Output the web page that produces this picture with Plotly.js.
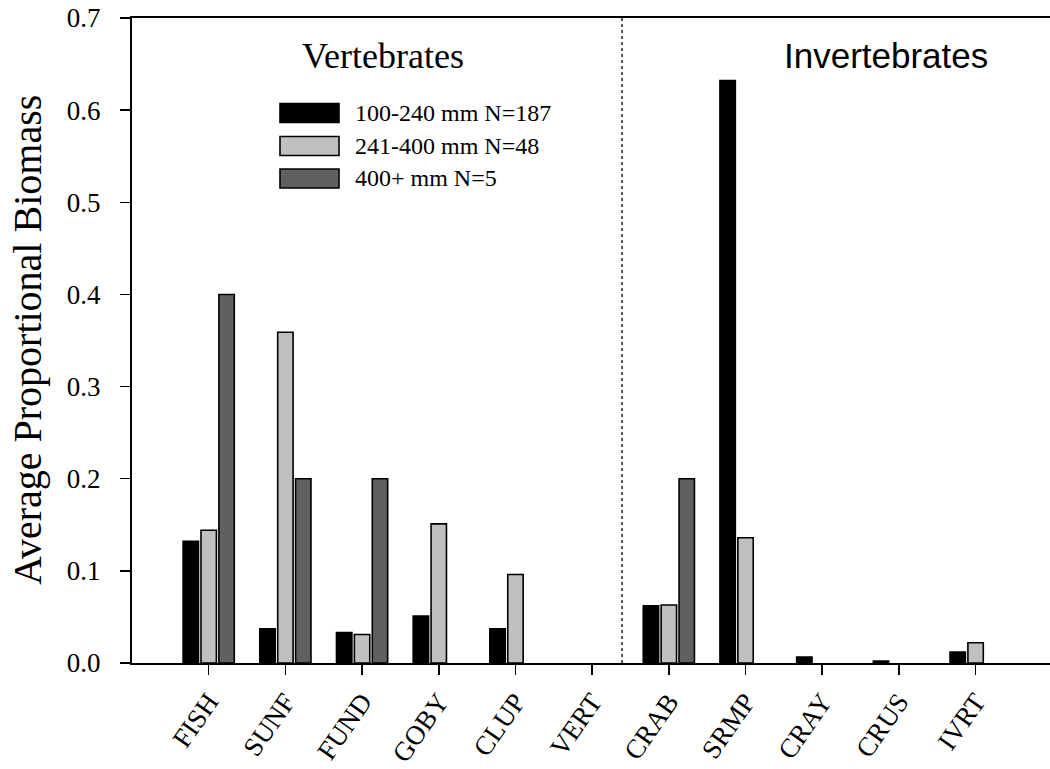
<!DOCTYPE html>
<html>
<head>
<meta charset="utf-8">
<script src="https://cdn.plot.ly/plotly-3.0.1.min.js"></script>
<style>
  html, body { margin: 0; padding: 0; background: #fff; }
  #chart { width: 1050px; height: 769px; }
</style>
</head>
<body>
<div id="chart"></div>
<script>
// Prey categories (vertebrates first, then invertebrates)
const categories = ['FISH', 'SUNF', 'FUND', 'GOBY', 'CLUP', 'VERT', 'CRAB', 'SRMP', 'CRAY', 'CRUS', 'IVRT'];

// Size classes and their average proportional biomass per category (null = none found)
const seriesNames = ['100-240 mm N=187', '241-400 mm N=48', '400+ mm N=5'];
const small  = [0.132, 0.037, 0.033, 0.051, 0.037, null, 0.062, 0.632, 0.0065, 0.002, 0.012];
const medium = [0.144, 0.359, 0.031, 0.151, 0.096, null, 0.063, 0.136, null, null, 0.022];
const large  = [0.400, 0.200, 0.200, null, null, null, 0.200, null, null, null, null];

const yTicks = [0, 0.1, 0.2, 0.3, 0.4, 0.5, 0.6, 0.7];
const groupLabels = ['Vertebrates', 'Invertebrates'];
const yTitle = 'Average Proportional Biomass';

const fills = ['#000000', '#c0c0c0', '#606060'];
const seriesValues = [small, medium, large];

// Plot area in pixels, used to place the hand-drawn legend and labels
const W = 1050, H = 769;
const M = { l: 132, r: 0, t: 18, b: 106 };
const plotW = W - M.l - M.r, plotH = H - M.t - M.b;
const px = x => (x - M.l) / plotW;
const py = y => (H - M.b - y) / plotH;

const traces = seriesValues.map((vals, i) => ({
  type: 'bar',
  name: seriesNames[i],
  x: categories.map((c, k) => k),
  y: vals,
  marker: { color: fills[i], line: { color: '#000', width: 1.6 } },
  showlegend: false,
  hoverinfo: 'x+y'
}));

const shapes = [
  // divider between vertebrate and invertebrate prey
  { type: 'line', xref: 'x', yref: 'y', x0: 5.39, x1: 5.39, y0: 0, y1: 0.7,
    line: { color: '#000', width: 1.3, dash: 'dot' } }
];
const annotations = [
  { text: groupLabels[0], xref: 'paper', yref: 'paper', x: px(383), y: py(56),
    xanchor: 'center', yanchor: 'middle', showarrow: false,
    font: { family: 'Liberation Serif', size: 36, color: '#000' } },
  { text: groupLabels[1], xref: 'paper', yref: 'paper', x: px(886), y: py(56),
    xanchor: 'center', yanchor: 'middle', showarrow: false,
    font: { family: 'Liberation Sans', size: 35, color: '#000' } },
  { text: yTitle, xref: 'paper', yref: 'paper', x: px(27), y: py(340),
    xanchor: 'center', yanchor: 'middle', textangle: -90, showarrow: false,
    font: { family: 'Liberation Serif', size: 40, color: '#000' } }
];

// Legend: wide swatches with labels
const legendRows = [113, 146, 178.5];
seriesNames.forEach((name, i) => {
  const cy = legendRows[i];
  shapes.push({ type: 'rect', xref: 'paper', yref: 'paper',
    x0: px(280), x1: px(339), y0: py(cy + 9.5), y1: py(cy - 9.5),
    fillcolor: fills[i], line: { color: '#000', width: 1.6 } });
  annotations.push({ text: name, xref: 'paper', yref: 'paper', x: px(353), y: py(cy),
    xanchor: 'left', yanchor: 'middle', showarrow: false,
    font: { family: 'Liberation Serif', size: 24, color: '#000' } });
});

const layout = {
  width: W, height: H,
  margin: M,
  paper_bgcolor: '#fff', plot_bgcolor: '#fff',
  barmode: 'group', bargap: 0.3, bargroupgap: 0.14,
  font: { family: 'Liberation Serif', color: '#000' },
  xaxis: {
    range: [-1, 10.97],
    tickmode: 'array', tickvals: categories.map((c, k) => k), ticktext: categories,
    tickangle: -55,
    ticks: 'outside', ticklen: 10, tickwidth: 1.5, tickcolor: '#000',
    tickfont: { family: 'Liberation Serif', size: 27, color: '#000' },
    showline: true, linecolor: '#000', linewidth: 2, mirror: true,
    showgrid: false, zeroline: false, fixedrange: true
  },
  yaxis: {
    range: [0, 0.7],
    tickmode: 'array', tickvals: yTicks, tickformat: '.1f',
    ticks: 'outside', ticklen: 10, tickwidth: 1.5, tickcolor: '#000',
    ticklabelstandoff: 14,
    tickfont: { family: 'Liberation Serif', size: 27, color: '#000' },
    showline: true, linecolor: '#000', linewidth: 2,
    showgrid: false, zeroline: false, fixedrange: true
  },
  shapes: shapes,
  annotations: annotations
};

Plotly.newPlot('chart', traces, layout, { displayModeBar: false, staticPlot: true });
</script>
</body>
</html>
